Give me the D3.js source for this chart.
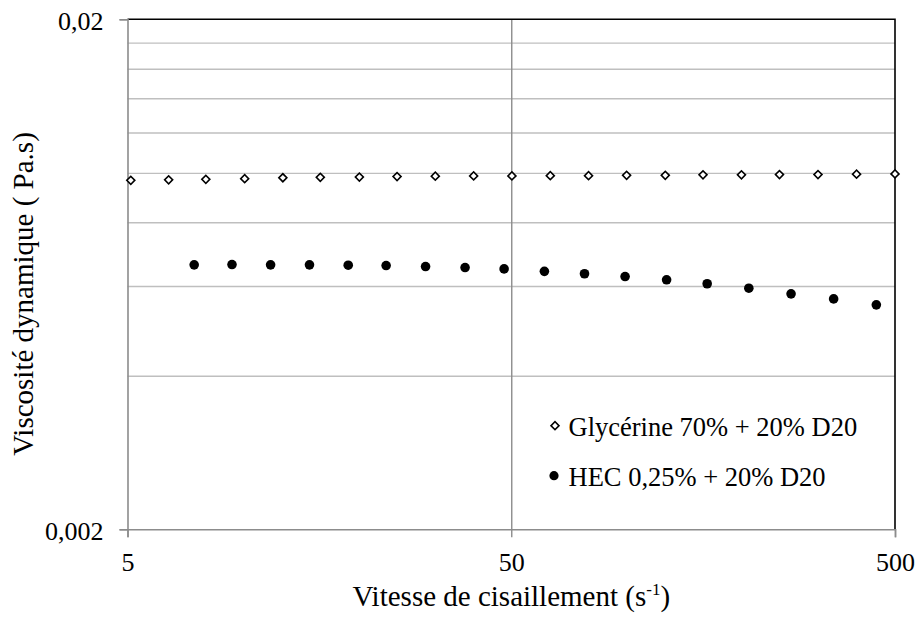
<!DOCTYPE html>
<html>
<head>
<meta charset="utf-8">
<script src="https://cdn.jsdelivr.net/npm/d3@7"></script>
<style>
  html, body { margin: 0; padding: 0; background: #fff; }
</style>
</head>
<body>
<svg id="chart" width="920" height="617"></svg>
<script>
// Shear rate (s-1) and dynamic viscosity (Pa.s) for both solutions
const glyShear = [5.1, 6.4, 8.0, 10.1, 12.7, 15.9, 20.1, 25.2, 31.7, 39.9, 50.2,
                  63.2, 79.5, 99.9, 126, 158, 199, 250, 315, 397, 500];
const glyVisc  = [0.00967, 0.00969, 0.00971, 0.00974, 0.00978, 0.00980, 0.00981, 0.00983, 0.00985, 0.00986, 0.00986,
                  0.00987, 0.00987, 0.00989, 0.00989, 0.00991, 0.00991, 0.00992, 0.00992, 0.00994, 0.00995];

const hecShear = [7.46, 9.36, 11.8, 14.9, 18.8, 23.6, 29.9, 37.9, 47.9,
                  61.0, 77.6, 99.0, 127, 162, 208, 268, 346, 447];
const hecVisc  = [0.00660, 0.00661, 0.00660, 0.00660, 0.00659, 0.00658, 0.00655, 0.00652, 0.00648,
                  0.00641, 0.00634, 0.00626, 0.00617, 0.00606, 0.00594, 0.00579, 0.00566, 0.00551];

const seriesNames = ["Glycérine 70% + 20% D20", "HEC 0,25% + 20% D20"];

const xTicks = [5, 50, 500];
const yTicks = [0.002, 0.02];
const yGrid  = [0.004, 0.006, 0.008, 0.010, 0.012, 0.014, 0.016, 0.018];
const xGrid  = [50];

const xTitle = "Vitesse de cisaillement (s";
const yTitle = "Viscosité dynamique ( Pa.s)";

const FONT = "'Liberation Serif', 'Times New Roman', Tinos, serif";

// Layout
const plot = { left: 127.5, right: 895, top: 19.3, bottom: 529.3 };
const svg = d3.select("#chart");

const x = d3.scaleLog().domain([5, 500]).range([plot.left, plot.right]);
const y = d3.scaleLog().domain([0.002, 0.02]).range([plot.bottom, plot.top]);

const fr = d3.formatLocale({ decimal: ",", thousands: " ", grouping: [3], currency: ["", " €"] });
const fmtY = d => fr.format("")(+d.toPrecision(3));

// Horizontal (minor) grid lines
svg.append("g")
  .attr("transform", `translate(${plot.left},0)`)
  .call(d3.axisLeft(y).tickValues(yGrid).tickSize(-(plot.right - plot.left)).tickFormat(""))
  .call(g => g.select(".domain").remove())
  .call(g => g.selectAll("line").attr("stroke", "#bfbfbf").attr("stroke-width", 1.4));

// Vertical grid line
svg.append("g")
  .attr("transform", `translate(0,${plot.bottom})`)
  .call(d3.axisBottom(x).tickValues(xGrid).tickSize(-(plot.bottom - plot.top)).tickFormat(""))
  .call(g => g.select(".domain").remove())
  .call(g => g.selectAll("line").attr("stroke", "#8c8c8c").attr("stroke-width", 1.4));

// Plot frame (top and right edges)
svg.append("path")
  .attr("d", `M${plot.left},${plot.top}H${plot.right}V${plot.bottom}`)
  .attr("fill", "none").attr("stroke", "#000").attr("stroke-width", 1.6);

// Axes
const xAxis = svg.append("g")
  .attr("transform", `translate(0,${plot.bottom})`)
  .call(d3.axisBottom(x).tickValues(xTicks).tickSize(8).tickPadding(15).tickFormat(d => String(d)));
const yAxis = svg.append("g")
  .attr("transform", `translate(${plot.left},0)`)
  .call(d3.axisLeft(y).tickValues(yTicks).tickSize(8).tickPadding(16).tickFormat(fmtY));

[xAxis, yAxis].forEach(a => {
  a.attr("font-family", FONT).attr("font-size", 26);
  a.select(".domain").attr("stroke", "#8c8c8c").attr("stroke-width", 1.6);
  a.selectAll(".tick line").attr("stroke", "#8c8c8c").attr("stroke-width", 1.4);
  a.selectAll(".tick text").attr("fill", "#000");
});
yAxis.selectAll(".tick text").attr("dy", "0.39em");

// Axis titles
const xt = svg.append("text")
  .attr("x", (plot.left + plot.right) / 2)
  .attr("y", 606)
  .attr("text-anchor", "middle")
  .attr("font-family", FONT)
  .attr("font-size", 29)
  .text(xTitle);
xt.append("tspan").attr("dy", -11).attr("font-size", 17).text("-1");
xt.append("tspan").attr("dy", 11).text(")");

svg.append("text")
  .attr("transform", `translate(33,294) rotate(-90)`)
  .attr("text-anchor", "middle")
  .attr("font-family", FONT)
  .attr("font-size", 29)
  .text(yTitle);

// Markers
const diamond = d3.symbol().type(d3.symbolSquare).size(32);

const gly = glyShear.map((s, i) => ({ s, v: glyVisc[i] }));
const hec = hecShear.map((s, i) => ({ s, v: hecVisc[i] }));

svg.append("g").selectAll("path")
  .data(gly).join("path")
  .attr("d", diamond)
  .attr("transform", d => `translate(${x(d.s)},${y(d.v)}) rotate(45)`)
  .attr("fill", "#fff").attr("stroke", "#000").attr("stroke-width", 1.6);

svg.append("g").selectAll("circle")
  .data(hec).join("circle")
  .attr("cx", d => x(d.s)).attr("cy", d => y(d.v))
  .attr("r", 4.8).attr("fill", "#000");

// Legend
const legend = svg.append("g");
const rows = [
  { name: seriesNames[0], cy: 425.7, kind: "diamond" },
  { name: seriesNames[1], cy: 475.7, kind: "circle" }
];
rows.forEach(r => {
  if (r.kind === "diamond") {
    legend.append("path").attr("d", diamond)
      .attr("transform", `translate(555,${r.cy}) rotate(45)`)
      .attr("fill", "#fff").attr("stroke", "#000").attr("stroke-width", 1.6);
  } else {
    legend.append("circle").attr("cx", 554).attr("cy", r.cy).attr("r", 4.6).attr("fill", "#000");
  }
  legend.append("text")
    .attr("x", 568.5).attr("y", r.cy + 10.5)
    .attr("font-family", FONT)
    .attr("font-size", 26.5)
    .text(r.name);
});
</script>
</body>
</html>
